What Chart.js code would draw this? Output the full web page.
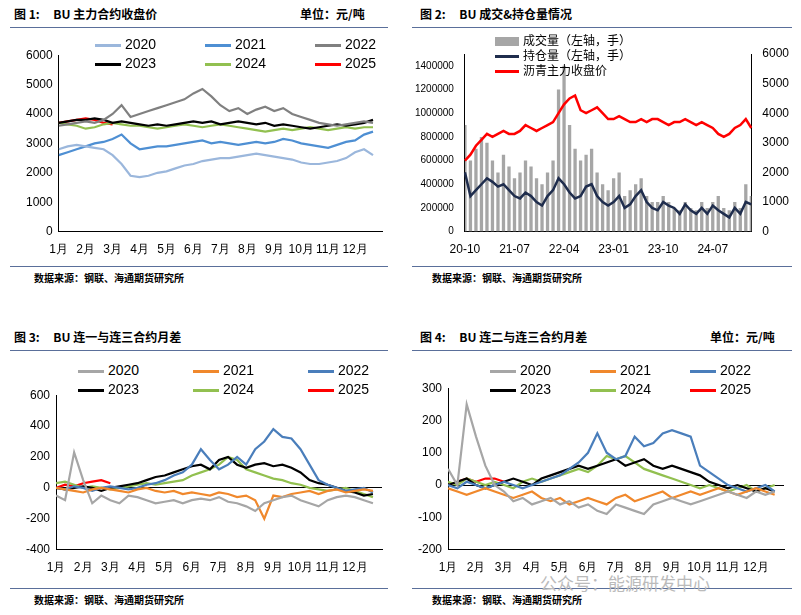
<!DOCTYPE html>
<html><head><meta charset="utf-8">
<script src="https://cdn.jsdelivr.net/npm/chart.js@4.4.0/dist/chart.umd.min.js"></script>
<style>
body{margin:0;width:801px;height:615px;background:#fff;font-family:"Noto Sans CJK SC","DejaVu Sans",sans-serif;position:relative;overflow:hidden}
.t{position:absolute;font-size:12px;font-weight:bold;color:#000}
.hl{position:absolute;height:0;border-top:1.5px solid #5a6f9a}
.c{position:absolute}
.lg{position:absolute;font-family:Arial,"Liberation Sans",sans-serif;font-size:14px;color:#000}
.lg span{position:absolute;white-space:nowrap}
.lg i{display:inline-block;width:26px;height:3px;vertical-align:middle;margin-right:4px}
.src{position:absolute;font-size:10px;font-weight:bold}
</style></head><body>
<div class="t" style="left:14px;top:5px">图 1:&nbsp;&nbsp;&nbsp;&nbsp;&nbsp;BU 主力合约收盘价</div>
<div class="t" style="left:300px;top:5px">单位：元/吨</div>
<div class="t" style="left:420px;top:5px">图 2:&nbsp;&nbsp;&nbsp;&nbsp;&nbsp;BU 成交&amp;持仓量情况</div>
<div class="t" style="left:14px;top:328px">图 3:&nbsp;&nbsp;&nbsp;&nbsp;&nbsp;BU 连一与连三合约月差</div>
<div class="t" style="left:420px;top:328px">图 4:&nbsp;&nbsp;&nbsp;&nbsp;&nbsp;BU 连二与连三合约月差</div>
<div class="t" style="left:710px;top:328px">单位：元/吨</div>
<div class="hl" style="left:10px;top:27px;width:378px"></div>
<div class="hl" style="left:412px;top:27px;width:380px"></div>
<div class="hl" style="left:10px;top:350px;width:378px"></div>
<div class="hl" style="left:412px;top:350px;width:380px"></div>
<div class="hl" style="left:10px;top:266px;width:378px"></div>
<div class="hl" style="left:412px;top:266px;width:380px"></div>
<div class="hl" style="left:10px;top:588px;width:378px"></div>
<div class="hl" style="left:412px;top:588px;width:380px"></div>
<div class="src" style="left:34px;top:270px">数据来源：钢联、海通期货研究所</div>
<div class="src" style="left:432px;top:270px">数据来源：钢联、海通期货研究所</div>
<div class="src" style="left:34px;top:592px">数据来源：钢联、海通期货研究所</div>
<div class="src" style="left:432px;top:592px">数据来源：钢联、海通期货研究所</div>
<div style="position:absolute;left:540px;top:570px;font-size:17px;color:#bbb">公众号：能源研发中心</div>
<div class="c" style="left:20px;top:42px;width:370px;height:218px"><canvas id="c1"></canvas></div>
<div class="c" style="left:412px;top:42px;width:380px;height:218px"><canvas id="c2"></canvas></div>
<div class="c" style="left:20px;top:382px;width:370px;height:196px"><canvas id="c3"></canvas></div>
<div class="c" style="left:412px;top:375px;width:380px;height:203px"><canvas id="c4"></canvas></div>
<div id="l1" class="lg" style="left:95px;top:36px"></div>
<div id="l3" class="lg" style="left:78px;top:362px"></div>
<div id="l4" class="lg" style="left:490px;top:362px"></div>
<div class="lg" style="left:495px;top:32px;font-family:'Noto Sans CJK SC';font-size:12px;line-height:15px">
<div><i style="background:#a6a6a6;height:9px;width:24px"></i>成交量（左轴，手）</div>
<div><i style="background:#1f2d4d;width:24px"></i>持仓量（左轴，手）</div>
<div><i style="background:#ff0000;width:24px"></i>沥青主力收盘价</div>
</div>
<script>
const years=['2020','2021','2022','2023','2024','2025'];
const months=['1月','2月','3月','4月','5月','6月','7月','8月','9月','10月','11月','12月'];
const colors1=['#9bb7dc','#4e8fd3','#808080','#000000','#92c050','#ff0000'];
const colors34=['#a6a6a6','#f0882c','#4a7ebb','#000000','#92c050','#ff0000'];
const p2020=[2800,2900,2950,2900,2850,2800,2600,2300,1900,1850,1900,2000,2050,2150,2250,2300,2400,2450,2500,2500,2550,2600,2650,2600,2550,2500,2450,2350,2300,2300,2350,2400,2500,2700,2800,2600];
const p2021=[2600,2700,2800,2900,3000,3050,3150,3300,3000,2800,2850,2900,2900,2950,3000,3050,3100,3000,3050,3000,2950,3000,3050,3000,3050,3150,3100,3000,2950,2900,2850,2950,3050,3100,3300,3400];
const p2022=[3600,3650,3700,3750,3700,3800,4000,4300,3900,4000,4100,4200,4300,4400,4500,4700,4850,4600,4300,4100,4200,4000,4150,4250,4100,4200,4000,3900,3800,3700,3650,3600,3650,3700,3750,3700];
const p2023=[3700,3750,3800,3800,3850,3800,3700,3750,3700,3650,3600,3650,3600,3650,3700,3750,3700,3750,3650,3700,3750,3700,3650,3700,3600,3650,3600,3550,3500,3550,3600,3650,3600,3650,3700,3800];
const p2024=[3700,3650,3600,3500,3550,3650,3700,3650,3600,3600,3550,3500,3550,3600,3650,3600,3550,3600,3650,3600,3550,3500,3450,3400,3450,3500,3450,3500,3550,3500,3450,3500,3550,3500,3550,3550];
const p2025=[3700,3750,3800,3850,3800,3700,3650];
const s2020=[-50,-80,230,50,-100,-50,-80,-100,-50,-60,-80,-100,-90,-80,-100,-80,-70,-80,-60,-90,-100,-120,-150,-100,-80,-60,-50,-80,-100,-120,-80,-60,-50,-60,-80,-100];
const s2021=[0,-10,-20,-30,-10,0,-10,-20,-30,-10,0,-20,-30,-20,-40,-30,-40,-50,-30,-40,-60,-50,-80,-200,-50,-60,-40,-30,-20,-40,-20,-10,-30,-20,-10,-20];
const s2022=[0,-10,10,0,-20,0,10,0,-10,0,20,30,50,80,100,150,250,180,120,150,200,150,250,300,380,330,320,250,150,50,20,0,-20,-10,0,-30];
const s2023=[0,-10,0,10,0,-20,0,10,20,30,50,70,80,100,120,140,150,120,180,200,150,130,150,160,140,150,130,100,50,30,20,0,-20,-30,-50,-40];
const s2024=[30,40,20,0,10,0,-10,0,10,20,30,20,30,40,50,80,100,120,150,200,180,120,100,80,60,50,30,20,0,-10,-20,-10,0,-20,-40,-60];
const s2025=[0,20,10,30,40,50,30];
const t2020=[50,0,250,150,60,0,-20,-50,-40,-60,-50,-40,-60,-50,-70,-60,-80,-90,-60,-70,-80,-90,-60,-50,-40,-50,-60,-50,-40,-30,-20,-30,-40,-20,-30,-20];
const t2021=[-10,-20,-30,-20,-10,-20,-30,-40,-30,-20,-40,-50,-40,-60,-50,-40,-50,-60,-40,-30,-50,-40,-30,-20,-40,-30,-20,-30,-20,-10,-20,-30,-20,-10,-20,-30];
const t2022=[0,-10,10,0,-10,0,10,0,-10,0,10,20,30,50,70,100,160,100,80,90,150,120,130,160,170,160,150,60,40,20,0,-10,-20,-10,0,-20];
const t2023=[0,10,20,0,-10,0,10,20,10,0,20,30,40,50,60,50,60,70,80,60,70,80,60,50,60,50,40,30,10,0,-10,0,-10,-20,-10,-20];
const t2024=[10,0,20,10,0,10,0,-10,10,20,10,20,30,40,50,40,60,90,80,90,70,50,40,30,20,10,0,-10,0,-10,-20,-10,0,-20,-10,0];
const t2025=[0,10,20,10,20,20,10];
const price=[2400,2600,2900,3100,3300,3200,3300,3400,3300,3300,3400,3600,3500,3400,3500,3600,3700,4000,4300,4500,4600,4100,4000,4100,4200,4000,3800,3800,3900,3800,3700,3700,3800,3700,3800,3800,3700,3600,3700,3700,3800,3700,3600,3700,3600,3500,3300,3200,3300,3500,3600,3800,3500];
const oi=[500000,300000,350000,400000,450000,420000,380000,400000,350000,300000,280000,330000,300000,250000,220000,300000,350000,450000,400000,330000,280000,300000,380000,400000,300000,250000,220000,250000,300000,200000,230000,300000,350000,250000,200000,180000,250000,220000,200000,150000,230000,180000,150000,200000,150000,220000,180000,150000,120000,200000,150000,250000,230000];
const vol=[900000,600000,700000,800000,750000,600000,500000,650000,550000,450000,500000,600000,550000,450000,400000,500000,600000,1200000,1400000,900000,700000,600000,650000,700000,500000,400000,350000,450000,500000,300000,350000,400000,450000,300000,250000,250000,300000,250000,200000,180000,250000,200000,180000,250000,200000,250000,300000,200000,180000,250000,200000,400000,300000];
const dateLabels=[];for(let i=0;i<price.length;i++){const m=9+i;const y=20+Math.floor(m/12);dateLabels.push(y+'-'+String(m%12+1).padStart(2,'0'));}

const F={family:'Arial, "Liberation Sans"',size:12};
Chart.defaults.color='#000';Chart.defaults.animation=false;
function legend(id,cols,w){let h='';years.forEach((y,i)=>{h+=`<span style="left:${(i%3)*w}px;top:${Math.floor(i/3)*19}px"><i style="background:${cols[i]}"></i>${y}</span>`});document.getElementById(id).innerHTML=h;}
legend('l1',colors1,110);legend('l3',colors34,115);legend('l4',colors34,100);
function yearChart(id,series,cols,min,max,step,zero,pad){
  new Chart(document.getElementById(id),{type:'line',
    data:{datasets:series.map((s,i)=>({data:s.map((v,j)=>({x:j/3,y:v})),borderColor:cols[i],borderWidth:2.2,pointRadius:0,tension:0}))},
    options:{responsive:true,maintainAspectRatio:false,layout:{padding:pad},plugins:{legend:{display:false},tooltip:{enabled:false}},
      scales:{x:{type:'linear',min:0,max:12,grid:{display:false},border:{color:'#000'},ticks:{stepSize:1,font:F,autoSkip:false,maxRotation:0,callback:v=>v<12?months[v]:''}},
        y:{min:min,max:max,border:{color:'#000'},grid:{drawTicks:false,color:c=>zero&&c.tick&&c.tick.value===0?'#000':'transparent'},ticks:{stepSize:step,font:F,padding:6,callback:v=>String(v)}}}}});
}
yearChart('c1',[p2020,p2021,p2022,p2023,p2024,p2025],colors1,0,6000,1000,false,{top:8,right:8});
yearChart('c3',[s2020,s2021,s2022,s2023,s2024,s2025],colors34,-400,600,200,true,{top:6,right:8});
yearChart('c4',[t2020,t2021,t2022,t2023,t2024,t2025],colors34,-200,300,100,true,{top:6,right:8});
new Chart(document.getElementById('c2'),{data:{labels:dateLabels,datasets:[
  {type:'line',data:price,yAxisID:'y2',borderColor:'#ff0000',borderWidth:2.5,pointRadius:0,order:1},
  {type:'line',data:oi,yAxisID:'y',borderColor:'#1f2d4d',borderWidth:2.5,pointRadius:0,order:2},
  {type:'bar',data:vol,yAxisID:'y',backgroundColor:'#a6a6a6',barPercentage:0.6,categoryPercentage:1,order:3}]},
  options:{responsive:true,maintainAspectRatio:false,layout:{padding:{top:12}},plugins:{legend:{display:false},tooltip:{enabled:false}},
    scales:{x:{offset:false,grid:{display:false},border:{color:'#000'},ticks:{font:F,autoSkip:false,maxRotation:0,callback:(v,i)=>i%9===0?dateLabels[i]:''}},
      y:{min:0,max:1500000,border:{color:'#000'},grid:{display:false},ticks:{stepSize:100000,autoSkip:false,font:{family:F.family,size:10},callback:v=>v%200000===0?String(v):''}},
      y2:{position:'right',min:0,max:6000,border:{color:'#000'},grid:{display:false},ticks:{stepSize:1000,font:F,callback:v=>String(v)}}}}});
</script>
</body></html>
